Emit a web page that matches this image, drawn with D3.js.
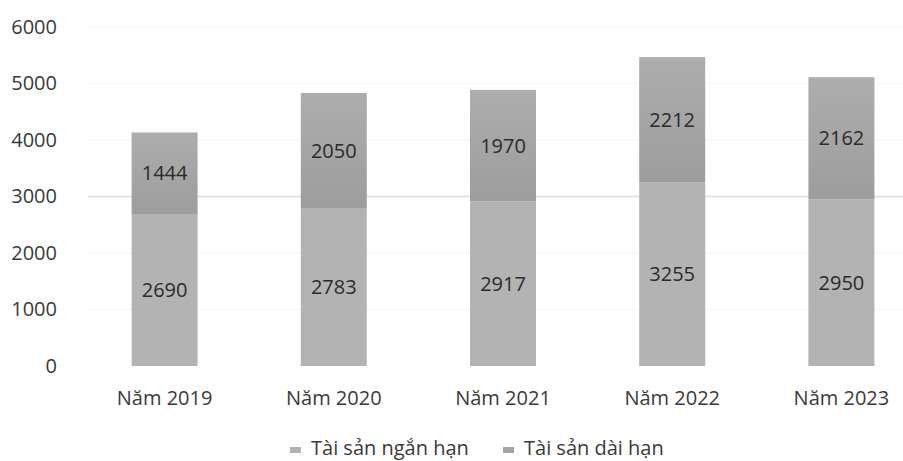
<!DOCTYPE html>
<html>
<head>
<meta charset="utf-8">
<script src="https://cdn.jsdelivr.net/npm/d3@7"></script>
<style>
  body { margin: 0; background: #fff; }
  text { font-family: "Open Sans", sans-serif; }
</style>
</head>
<body>
<div id="chart"></div>
<script>
// data
const years = ["Năm 2019", "Năm 2020", "Năm 2021", "Năm 2022", "Năm 2023"];
const nganHan = [2690, 2783, 2917, 3255, 2950];   // Tài sản ngắn hạn (bottom)
const daiHan = [1444, 2050, 1970, 2212, 2162];    // Tài sản dài hạn (top)
const seriesNames = ["Tài sản ngắn hạn", "Tài sản dài hạn"];
const yTicks = [0, 1000, 2000, 3000, 4000, 5000, 6000];

const width = 903, height = 461;
const margin = { top: 27, right: -23, bottom: 95, left: 80 };
const fontSize = "20px";

const svg = d3.select("#chart").append("svg")
  .attr("width", width)
  .attr("height", height);

const defs = svg.append("defs");
const gradTop = defs.append("linearGradient")
  .attr("id", "gradTop").attr("x1", 0).attr("y1", 0).attr("x2", 0).attr("y2", 1);
gradTop.append("stop").attr("offset", "0%").attr("stop-color", "#adadad");
gradTop.append("stop").attr("offset", "100%").attr("stop-color", "#9d9d9d");

const x = d3.scaleBand()
  .domain(years)
  .range([margin.left, width - margin.right])
  .paddingInner(0.61)
  .paddingOuter(0.305);

const y = d3.scaleLinear()
  .domain([0, 6000])
  .range([height - margin.bottom, margin.top]);

// faint gridlines (only 3000 survives the scan clearly)
svg.append("g")
  .selectAll("line")
  .data(yTicks.filter(d => d > 0))
  .join("line")
  .attr("x1", margin.left + 8)
  .attr("x2", width)
  .attr("y1", d => y(d))
  .attr("y2", d => y(d))
  .attr("stroke", d => d === 3000 ? "#dcdcdc" : "#f7f7f7")
  .attr("stroke-width", 1.5);

// y axis labels
const yAxis = svg.append("g")
  .attr("transform", `translate(${margin.left - 23},0)`)
  .call(d3.axisLeft(y).tickValues(yTicks).tickFormat(d3.format("d")).tickSize(0).tickPadding(0));
yAxis.select(".domain").remove();
yAxis.selectAll("text")
  .attr("fill", "#3a3a3a")
  .style("font-size", fontSize)
  .style("font-family", "'Open Sans', sans-serif");

// x axis labels
const xAxis = svg.append("g")
  .attr("transform", `translate(0,${y(0) + 19})`)
  .call(d3.axisBottom(x).tickSize(0).tickPadding(6));
xAxis.select(".domain").remove();
xAxis.selectAll("text")
  .attr("fill", "#3a3a3a")
  .style("font-size", fontSize)
  .style("font-family", "'Open Sans', sans-serif");

const rows = years.map((yr, i) => ({ year: yr, a: nganHan[i], b: daiHan[i] }));

// bottom segments
svg.append("g")
  .selectAll("rect")
  .data(rows)
  .join("rect")
  .attr("x", d => x(d.year))
  .attr("width", x.bandwidth())
  .attr("y", d => y(d.a))
  .attr("height", d => y(0) - y(d.a))
  .attr("fill", "#b3b3b3");

// top segments
svg.append("g")
  .selectAll("rect")
  .data(rows)
  .join("rect")
  .attr("x", d => x(d.year))
  .attr("width", x.bandwidth())
  .attr("y", d => y(d.a + d.b))
  .attr("height", d => y(d.a) - y(d.a + d.b))
  .attr("fill", "url(#gradTop)");

// value labels
const labels = svg.append("g")
  .attr("text-anchor", "middle")
  .attr("fill", "#2b2b2b")
  .style("font-size", fontSize);

labels.selectAll(".lblA")
  .data(rows)
  .join("text")
  .attr("class", "lblA")
  .attr("x", d => x(d.year) + x.bandwidth() / 2)
  .attr("y", d => y(d.a / 2))
  .attr("dy", "0.35em")
  .text(d => d.a);

labels.selectAll(".lblB")
  .data(rows)
  .join("text")
  .attr("class", "lblB")
  .attr("x", d => x(d.year) + x.bandwidth() / 2)
  .attr("y", d => y(d.a + d.b / 2))
  .attr("dy", "0.35em")
  .text(d => d.b);

// legend
const legendX = [290, 503];
const legendColors = ["#b3b3b3", "#a5a5a5"];
const legend = svg.append("g")
  .selectAll("g")
  .data(seriesNames)
  .join("g")
  .attr("transform", (d, i) => `translate(${legendX[i]},448)`);

legend.append("rect")
  .attr("x", 0).attr("y", -1)
  .attr("width", 11).attr("height", 6)
  .attr("fill", (d, i) => legendColors[i]);

legend.append("text")
  .attr("x", 21)
  .attr("dy", "0.35em")
  .attr("fill", "#3a3a3a")
  .style("font-size", fontSize)
  .text(d => d);
</script>
</body>
</html>
